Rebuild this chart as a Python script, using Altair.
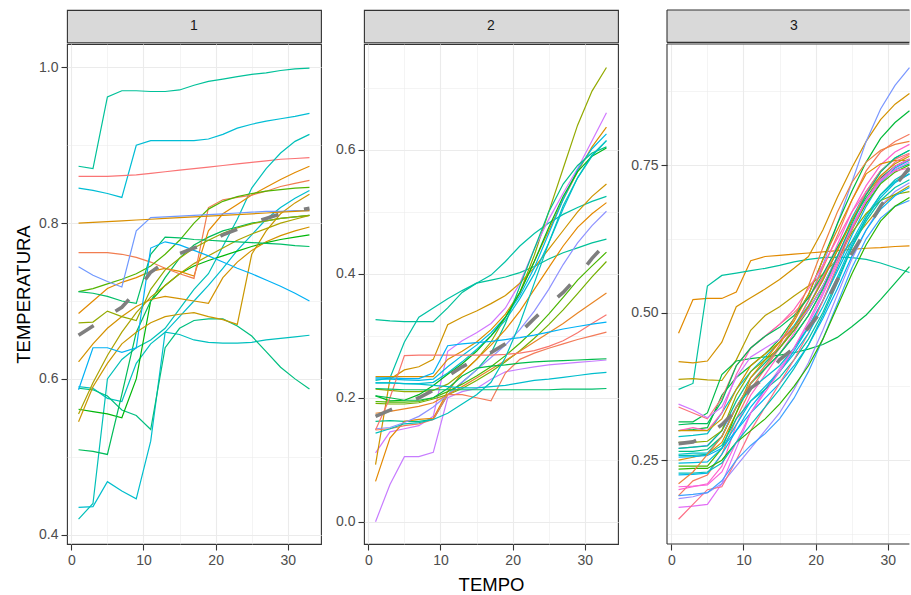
import math
import altair as alt
import pandas as pd

FONT = "Liberation Sans, Arial, sans-serif"

# time points (TEMPO) at which each curve is read
T = [1, 3, 5, 7, 9, 11, 13, 15, 17, 19, 21, 23, 25, 27, 29, 31, 33]

# ---------------- panel 1 ----------------
P1_VALUES = [
    [.873, .870, .962, .970, .970, .969, .969, .971, .977, .982, .985, .988, .991, .993, .996, .998, .999],
    [.845, .842, .838, .833, .900, .906, .906, .906, .906, .908, .914, .922, .927, .931, .934, .937, .941],
    [.860, .860, .860, .861, .862, .864, .866, .868, .870, .872, .874, .876, .878, .880, .882, .883, .884],
    [.420, .440, .600, .625, .640, .650, .665, .690, .715, .735, .770, .805, .845, .870, .890, .905, .914],
    [.435, .436, .468, .456, .446, .520, .660, .680, .700, .720, .742, .765, .785, .805, .820, .832, .842],
    [.590, .588, .575, .571, .620, .645, .660, .657, .650, .647, .646, .646, .647, .650, .652, .654, .656],
    [.588, .586, .578, .560, .553, .535, .640, .665, .675, .677, .677, .668, .655, .635, .615, .600, .587],
    [.561, .558, .555, .550, .600, .700, .720, .735, .745, .752, .758, .764, .770, .775, .779, .782, .785],
    [.509, .507, .503, .580, .660, .700, .730, .755, .772, .782, .790, .795, .800, .803, .806, .808, .810],
    [.545, .590, .620, .645, .660, .672, .680, .683, .685, .680, .676, .670, .760, .790, .812, .826, .837],
    [.555, .595, .630, .660, .685, .705, .720, .735, .748, .758, .768, .778, .786, .793, .800, .805, .810],
    [.622, .645, .665, .680, .693, .702, .706, .703, .700, .697, .730, .750, .765, .776, .784, .790, .795],
    [.684, .700, .716, .724, .730, .738, .742, .738, .732, .790, .812, .824, .836, .846, .856, .865, .873],
    [.762, .762, .762, .760, .756, .750, .742, .735, .729, .820, .830, .833, .836, .841, .847, .851, .855],
    [.712, .716, .722, .728, .735, .745, .760, .778, .800, .818, .828, .834, .838, .841, .843, .845, .846],
    [.712, .710, .706, .700, .697, .760, .782, .781, .779, .778, .777, .776, .775, .774, .773, .771, .770],
    [.672, .673, .687, .680, .675, .715, .740, .755, .768, .778, .787, .794, .799, .803, .806, .808, .810],
    [.744, .733, .725, .718, .790, .807, .808, .809, .810, .811, .812, .813, .814, .815, .815, .816, .816],
    [.586, .640, .640, .634, .640, .768, .776, .772, .765, .758, .750, .742, .735, .727, .719, .710, .700],
    [.800, .801, .802, .803, .804, .805, .806, .807, .808, .809, .810, .811, .812, .813, .814, .815, .816],
]
P1_HUES = [172, 205, 12, 188, 200, 192, 160, 128, 145, 62, 82, 55, 42, 25, 118, 150, 95, 258, 230, 50]
P1_MEAN = [.656, .668, .680, .692, .712, .737, .750, .761, .768, .775, .785, .792, .800, .806, .812, .816, .819]

# ---------------- panel 2 ----------------
P2_VALUES = [
    [.326, .324, .323, .323, .323, .345, .370, .385, .390, .395, .402, .412, .424, .434, .442, .450, .456],
    [.228, .232, .290, .330, .345, .360, .373, .385, .398, .420, .445, .465, .482, .496, .507, .517, .525],
    [.214, .212, .210, .210, .212, .222, .240, .262, .290, .330, .370, .430, .500, .570, .640, .695, .733],
    [.111, .145, .150, .155, .170, .275, .292, .305, .320, .345, .385, .440, .488, .530, .570, .615, .660],
    [.000, .060, .105, .105, .112, .200, .210, .215, .230, .242, .246, .250, .253, .255, .257, .259, .261],
    [.234, .234, .234, .234, .234, .262, .275, .290, .310, .335, .370, .420, .470, .520, .565, .605, .637],
    [.092, .230, .245, .250, .262, .318, .330, .340, .352, .365, .385, .410, .440, .470, .500, .525, .545],
    [.230, .230, .229, .228, .230, .250, .268, .285, .305, .330, .365, .410, .465, .520, .568, .602, .626],
    [.224, .224, .223, .223, .225, .240, .258, .278, .300, .325, .360, .400, .450, .505, .555, .592, .615],
    [.162, .163, .162, .162, .165, .205, .225, .245, .272, .320, .380, .440, .500, .545, .575, .595, .605],
    [.203, .195, .196, .205, .220, .238, .255, .275, .300, .330, .370, .420, .475, .525, .565, .590, .603],
    [.065, .135, .162, .165, .167, .210, .240, .262, .285, .310, .340, .375, .410, .445, .475, .497, .515],
    [.150, .152, .160, .170, .185, .205, .225, .245, .265, .285, .310, .340, .375, .415, .450, .478, .501],
    [.194, .193, .193, .194, .200, .210, .222, .235, .250, .268, .288, .310, .335, .362, .390, .413, .435],
    [.191, .190, .190, .192, .198, .205, .215, .228, .242, .258, .276, .296, .318, .342, .368, .395, .420],
    [.175, .178, .182, .186, .192, .205, .218, .232, .246, .260, .275, .290, .305, .320, .337, .353, .369],
    [.148, .200, .268, .269, .269, .269, .269, .269, .269, .270, .272, .276, .283, .292, .305, .320, .334],
    [.148, .150, .155, .158, .165, .205, .205, .200, .195, .240, .262, .272, .280, .287, .294, .300, .306],
    [.232, .232, .231, .231, .240, .284, .287, .289, .291, .294, .297, .301, .306, .311, .315, .319, .322],
    [.203, .200, .196, .196, .200, .215, .235, .248, .251, .253, .256, .258, .259, .260, .261, .262, .263],
    [.224, .224, .223, .222, .220, .218, .216, .216, .218, .220, .224, .228, .230, .233, .236, .239, .241],
    [.215, .214, .213, .213, .213, .213, .213, .213, .213, .213, .213, .213, .213, .214, .214, .214, .215],
    [.143, .150, .158, .160, .165, .175, .190, .205, .225, .265, .320, .385, .450, .510, .555, .590, .615],
]
P2_HUES = [172, 178, 95, 290, 285, 50, 58, 215, 205, 165, 130, 40, 265, 120, 108, 35, 15, 22, 230, 140, 200, 152, 190]
P2_MEAN = [.170, .180, .190, .200, .212, .235, .250, .262, .273, .287, .305, .328, .350, .370, .395, .425, .450]

# ---------------- panel 3 ----------------
P3_VALUES = [
    [.465, .522, .524, .524, .535, .588, .595, .597, .599, .601, .603, .605, .607, .609, .610, .612, .613],
    [.370, .380, .545, .563, .567, .571, .575, .580, .586, .590, .593, .594, .593, .590, .584, .576, .568],
    [.417, .415, .418, .450, .510, .525, .540, .556, .575, .595, .640, .695, .745, .790, .827, .853, .871],
    [.387, .388, .386, .385, .420, .470, .495, .510, .528, .545, .565, .590, .620, .650, .680, .700, .715],
    [.315, .315, .330, .395, .418, .422, .425, .428, .432, .438, .446, .458, .476, .496, .522, .550, .578],
    [.270, .272, .275, .300, .340, .380, .410, .440, .475, .520, .580, .650, .720, .790, .845, .885, .915],
    [.300, .302, .305, .360, .390, .410, .430, .455, .490, .530, .590, .650, .705, .755, .795, .822, .842],
    [.190, .215, .225, .260, .320, .370, .405, .440, .475, .520, .575, .630, .690, .740, .772, .790, .802],
    [.200, .205, .210, .240, .310, .360, .395, .430, .465, .510, .560, .615, .670, .715, .750, .772, .785],
    [.290, .292, .295, .330, .370, .400, .425, .450, .478, .512, .555, .605, .660, .705, .740, .762, .775],
    [.340, .330, .320, .355, .410, .440, .460, .480, .500, .525, .560, .605, .655, .705, .740, .760, .770],
    [.170, .172, .175, .210, .270, .330, .370, .405, .440, .480, .530, .585, .640, .690, .725, .748, .760],
    [.225, .226, .228, .260, .300, .340, .370, .400, .435, .475, .520, .575, .630, .680, .720, .745, .758],
    [.270, .272, .274, .300, .350, .390, .415, .440, .470, .505, .545, .595, .645, .690, .722, .742, .752],
    [.250, .255, .260, .280, .330, .390, .420, .450, .485, .530, .590, .640, .690, .735, .752, .758, .758],
    [.240, .240, .240, .270, .330, .380, .405, .430, .460, .495, .540, .590, .640, .685, .718, .738, .750],
    [.185, .188, .195, .210, .240, .270, .300, .330, .370, .415, .470, .530, .590, .640, .680, .705, .720],
    [.260, .262, .262, .290, .340, .370, .390, .410, .440, .475, .520, .570, .620, .665, .700, .722, .735],
    [.300, .305, .300, .330, .395, .440, .460, .480, .505, .540, .580, .625, .670, .705, .728, .740, .745],
    [.280, .280, .282, .300, .360, .400, .420, .440, .470, .505, .545, .590, .635, .668, .690, .700, .705],
    [.255, .256, .258, .270, .300, .330, .355, .380, .410, .445, .490, .540, .595, .640, .675, .698, .712],
    [.258, .258, .260, .275, .320, .350, .370, .390, .420, .455, .500, .555, .610, .655, .690, .712, .725],
    [.310, .312, .312, .350, .410, .440, .460, .475, .495, .525, .565, .610, .655, .695, .728, .748, .760],
    [.150, .175, .200, .205, .250, .300, .340, .380, .420, .465, .520, .580, .640, .690, .730, .755, .768],
    [.345, .335, .322, .340, .390, .425, .440, .455, .475, .505, .545, .595, .645, .690, .722, .742, .755],
    [.245, .246, .247, .270, .310, .350, .375, .400, .430, .465, .510, .560, .615, .660, .695, .720, .735],
    [.190, .192, .195, .215, .250, .275, .295, .320, .355, .400, .455, .515, .575, .625, .660, .680, .690],
    [.235, .236, .236, .250, .280, .300, .320, .345, .375, .410, .455, .510, .565, .615, .655, .680, .695],
    [.300, .300, .300, .320, .370, .410, .430, .450, .475, .510, .555, .605, .655, .700, .732, .752, .765],
    [.205, .206, .208, .230, .280, .330, .365, .400, .440, .485, .535, .590, .645, .690, .725, .748, .760],
    [.228, .228, .230, .245, .280, .310, .340, .370, .405, .445, .495, .550, .610, .660, .700, .725, .740],
    [.265, .265, .268, .290, .340, .380, .405, .430, .460, .495, .540, .595, .650, .700, .738, .762, .775],
    [.210, .230, .260, .290, .340, .380, .410, .445, .490, .545, .610, .670, .720, .755, .775, .785, .790],
]
P3_HUES = [42, 175, 55, 75, 140, 260, 135, 20, 330, 195, 10, 300, 220, 170, 45, 120, 270, 200,
           340, 100, 230, 180, 145, 5, 290, 210, 250, 125, 60, 320, 190, 160, 30]
P3_MEAN = [.278, .281, .292, .310, .335, .372, .390, .420, .440, .475, .505, .555, .600, .640, .680, .715, .745]


def hcl_hex(h, c=100.0, l=65.0):
    hr = math.radians(h)
    u, v = c * math.cos(hr), c * math.sin(hr)
    xn, yn, zn = 95.047, 100.0, 108.883
    y = yn * ((l + 16) / 116) ** 3
    den = xn + 15 * yn + 3 * zn
    up = u / (13 * l) + 4 * xn / den
    vp = v / (13 * l) + 9 * yn / den
    x = y * 9 * up / (4 * vp)
    z = y * (12 - 3 * up - 20 * vp) / (4 * vp)
    x, y, z = x / 100, y / 100, z / 100
    rgb = [3.2404542 * x - 1.5371385 * y - 0.4985314 * z,
           -0.9692660 * x + 1.8760108 * y + 0.0415560 * z,
           0.0556434 * x - 0.2040259 * y + 1.0572252 * z]
    out = []
    for ch in rgb:
        ch = 12.92 * ch if ch <= 0.0031308 else 1.055 * ch ** (1 / 2.4) - 0.055
        out.append(int(round(min(max(ch, 0), 1) * 255)))
    return "#%02X%02X%02X" % tuple(out)


PANELS = [
    ("1", P1_VALUES, P1_HUES, P1_MEAN),
    ("2", P2_VALUES, P2_HUES, P2_MEAN),
    ("3", P3_VALUES, P3_HUES, P3_MEAN),
]

ids, cols = [], []
line_frames, mean_frames = {}, {}
for name, vals, hues, mean in PANELS:
    assert len(vals) == len(hues), name
    rows = []
    for i, (series, hue) in enumerate(zip(vals, hues)):
        assert len(series) == len(T), (name, i)
        sid = f"{name}-{i + 1:02d}"
        ids.append(sid)
        cols.append(hcl_hex(hue))
        for t, v in zip(T, series):
            rows.append({"sid": sid, "TEMPO": t, "TEMPERATURA": v})
    line_frames[name] = pd.DataFrame(rows)
    mean_frames[name] = pd.DataFrame({"TEMPO": T, "TEMPERATURA": mean})

X_MIN, X_SPAN = -0.6, 35.2
X_GRID = [0, 5, 10, 15, 20, 25, 30]

Y_SPECS = {
    "1": dict(domain=[0.388, 1.03], values=[0.4, 0.5, 0.6, 0.7, 0.8, 0.9, 1.0], step=5, fmt=".1f"),
    "2": dict(domain=[-0.036, 0.771], values=[0.0, 0.1, 0.2, 0.3, 0.4, 0.5, 0.6, 0.7], step=5, fmt=".1f"),
    "3": dict(domain=[0.108, 0.955], values=[0.125, 0.25, 0.375, 0.5, 0.625, 0.75, 0.875], step=4, fmt=".2f"),
}

PW, PH, SH = 254, 500, 32.4
W3 = 243          # last panel is cut by the right edge of the picture
BORDER = "#333333"
one = pd.DataFrame({"a": [0]})


def cond(test, a, b):
    return {"condition": {"test": test, "value": a}, "value": b}


def make_panel(name, ytitle, xtitle, width, cut=False):
    ys = Y_SPECS[name]
    xtest = "datum.value % 10 === 0"
    ytest = f"abs(datum.value*{ys['step']} - round(datum.value*{ys['step']})) < 0.001"
    xaxis = alt.Axis(values=X_GRID, format="d", title=xtitle,
                     labelExpr=f"{xtest} ? datum.label : ''",
                     tickOpacity=cond(xtest, 1, 0),
                     gridWidth=cond(xtest, 1.1, 0.55),
                     labelFlush=False, labelOverlap=False, titlePadding=8)
    yaxis = alt.Axis(values=ys["values"], format=ys["fmt"], title=ytitle,
                     labelExpr=f"{ytest} ? datum.label : ''",
                     tickOpacity=cond(ytest, 1, 0),
                     gridWidth=cond(ytest, 1.1, 0.55),
                     labelFlush=False, labelOverlap=False, titlePadding=5)
    xdom = [X_MIN, X_MIN + X_SPAN * width / PW]
    x = alt.X("TEMPO:Q", scale=alt.Scale(domain=xdom, nice=False, zero=False), axis=xaxis)
    y = alt.Y("TEMPERATURA:Q", scale=alt.Scale(domain=ys["domain"], nice=False, zero=False), axis=yaxis)
    lines = alt.Chart(line_frames[name]).mark_line(strokeWidth=1.2, clip=True).encode(
        x=x, y=y,
        color=alt.Color("sid:N", scale=alt.Scale(domain=ids, range=cols), legend=None),
        detail="sid:N",
    )
    mean = alt.Chart(mean_frames[name]).mark_line(
        strokeWidth=3.6, strokeDash=[18, 26], color="#7F7F7F", strokeCap="butt", clip=True
    ).encode(x=x, y=y)
    plot_layers = [lines, mean]
    strip_layers = [
        alt.Chart(pd.DataFrame({"lab": [name]})).mark_text(
            font=FONT, fontSize=14, color="#1A1A1A"
        ).encode(text="lab:N", x=alt.value(PW / 2), y=alt.value(SH / 2))
    ]
    if cut:
        rule = alt.Chart(one).mark_rule(color=BORDER, strokeWidth=1.1)
        plot_layers += [
            rule.encode(x=alt.value(0), y=alt.value(0), y2=alt.value(PH)),
            rule.encode(x=alt.value(0), x2=alt.value(width - 0.6), y=alt.value(0)),
            rule.encode(x=alt.value(0), x2=alt.value(width - 0.6), y=alt.value(PH)),
        ]
        strip_layers += [
            rule.encode(x=alt.value(0), y=alt.value(0), y2=alt.value(SH)),
            rule.encode(x=alt.value(0), x2=alt.value(width - 0.6), y=alt.value(0)),
            rule.encode(x=alt.value(0), x2=alt.value(width - 0.6), y=alt.value(SH)),
        ]
        plot_view = alt.ViewBackground(strokeWidth=0, stroke="transparent")
        strip_view = alt.ViewBackground(fill="#D9D9D9", strokeWidth=0, stroke="transparent")
    else:
        plot_view = alt.ViewBackground(stroke=BORDER, strokeWidth=1.1)
        strip_view = alt.ViewBackground(fill="#D9D9D9", stroke=BORDER, strokeWidth=1.1)
    plot = alt.layer(*plot_layers).properties(width=width, height=PH, view=plot_view)
    strip = alt.layer(*strip_layers).properties(width=width, height=SH, view=strip_view)
    return alt.vconcat(strip, plot, spacing=0)


left_pair = alt.hconcat(
    make_panel("1", "TEMPERATURA", None, PW),
    make_panel("2", None, "TEMPO", PW),
    spacing=12,
)
chart = alt.hconcat(
    left_pair,
    make_panel("3", None, None, W3, cut=True),
    spacing=11,
).resolve_scale(x="independent", y="independent").properties(
    padding={"left": 13, "top": 9, "right": 0, "bottom": 0},
    background="white",
).configure_axis(
    labelFont=FONT, titleFont=FONT, labelFontSize=14, titleFontSize=18.5,
    labelColor="#4D4D4D", titleColor="#000000", titleFontWeight="normal",
    tickColor="#333333", tickSize=6, tickWidth=1.1, domain=False,
    gridColor="#EBEBEB", labelPadding=3,
)

chart.save("out.html", embed_options={"renderer": "svg", "actions": False})
